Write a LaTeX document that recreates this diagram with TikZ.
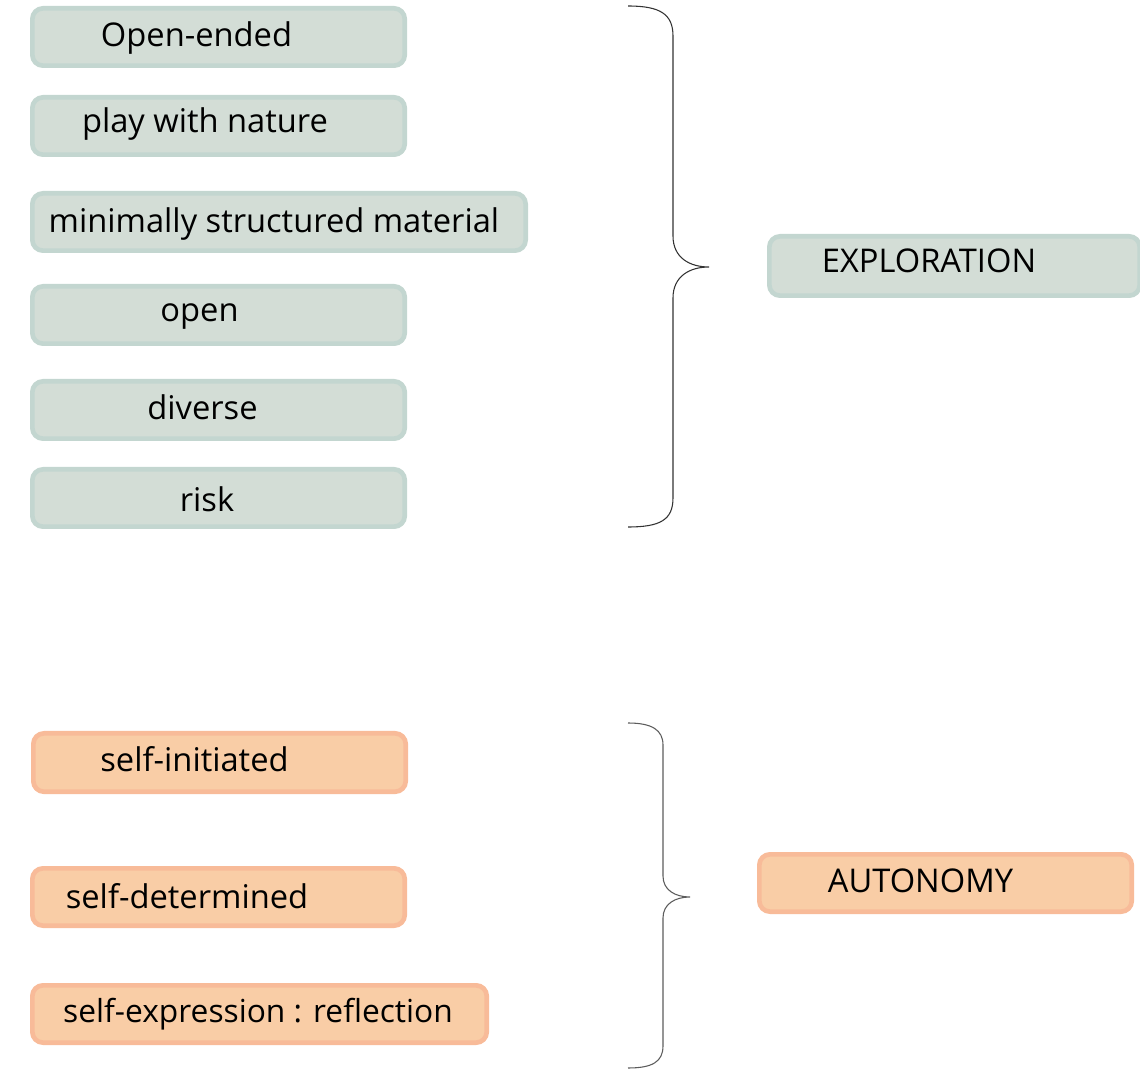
\documentclass[tikz,border=0pt]{standalone}
\usepackage{fontspec}
\setmainfont{Open Sans}
\definecolor{gfill}{HTML}{D3DDD6}
\definecolor{gline}{HTML}{C3D6D0}
\definecolor{ofill}{HTML}{F9CDA6}
\definecolor{oline}{HTML}{F8BB99}
\definecolor{brc}{HTML}{333333}
\begin{document}
\begin{tikzpicture}[x=0.75pt,y=-0.75pt,
  box/.style={rounded corners=8pt, line width=3.5pt, inner sep=0pt, anchor=north west, minimum height=43pt},
  gbox/.style={box, draw=gline, fill=gfill},
  obox/.style={box, draw=oline, fill=ofill},
  txt/.style={font=\fontsize{24.5}{29}\selectfont, inner sep=0pt, text=black, anchor=base},
  brace/.style={draw=brc, line width=0.8pt}]
\useasboundingbox (0,0) rectangle (1140,1069);
% exploration boxes
\node[gbox, minimum width=279.3pt] (b1) at (30,6) {};
\node[txt] (t1) at (196.5,47) {Open-ended};
\node[gbox, minimum width=279.3pt] (b2) at (30,95) {};
\node[txt] (t2) at (205,133) {play with nature};
\node[gbox, minimum width=370pt] (b3) at (30,191) {};
\node[txt] (t3) at (274,233) {minimally structured material};
\node[gbox, minimum width=279.3pt] (b4) at (30,284) {};
\node[txt] (t4) at (199.5,322) {open};
\node[gbox, minimum width=279.3pt] (b5) at (30,379) {};
\node[txt] (t5) at (202.5,420) {diverse};
\node[gbox, minimum width=279.3pt] (b6) at (30,467) {};
\node[txt] (t6) at (207,512) {risk};
\node[gbox, minimum width=277.8pt, minimum height=44.5pt] (E) at (767,234) {};
\node[txt] (tE) at (929,273) {EXPLORATION};
% autonomy boxes
\node[obox, minimum width=279.3pt, minimum height=43.8pt] (a1) at (31,731) {};
\node[txt] (s1) at (194.5,772) {self-initiated};
\node[obox, minimum width=279.3pt] (a2) at (30,866) {};
\node[txt] (s2) at (187,908) {self-determined};
\node[obox, minimum width=340.8pt] (a3) at (30,983) {};
\node[txt, font=\fontsize{23.8}{29}\selectfont] (s3) at (258,1022) {self-expression : reflection};
\node[obox, minimum width=279.3pt] (A) at (757,852) {};
\node[txt] (tA) at (920.5,892) {AUTONOMY};
% braces
\draw[brace] (628,6) .. controls (660,6) and (673,14) .. (673,36) -- (673,236)
  .. controls (673,258) and (690,267) .. (709,267)
  .. controls (690,267) and (673,276) .. (673,298) -- (673,498)
  .. controls (673,520) and (660,527) .. (628,527);
\draw[brace, draw=brc!80] (628,723) .. controls (652,723) and (663,730) .. (663,745) -- (663,876)
  .. controls (663,890) and (675,897) .. (690,897)
  .. controls (675,897) and (663,904) .. (663,918) -- (663,1046)
  .. controls (663,1062) and (652,1068) .. (628,1068);
\end{tikzpicture}
\end{document}
